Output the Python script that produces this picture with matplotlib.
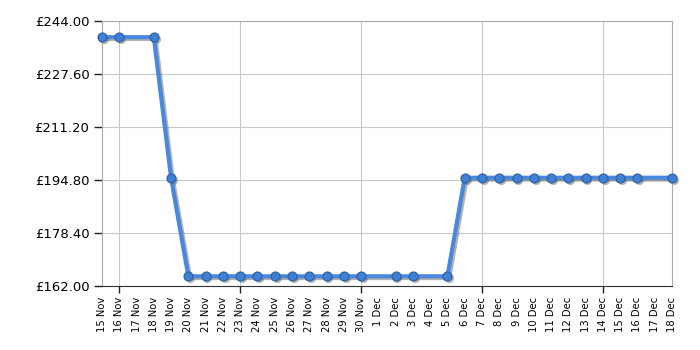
import matplotlib
matplotlib.use("Agg")
import matplotlib.pyplot as plt
import matplotlib.transforms as mtransforms

# day labels from 15 Nov to 18 Dec
day_labels = ([f"{d} Nov" for d in range(15, 31)] +
              [f"{d} Dec" for d in range(1, 19)])

# days that have a price (index into day_labels)
price_days = [0, 1, 3, 4, 5, 6, 7, 8, 9, 10, 11, 12, 13, 14, 15,
              17, 18, 20, 21, 22, 23, 24, 25, 26, 27, 28, 29, 30, 31, 33]
prices = [238.99, 238.99, 238.99, 195.49,
          164.99, 164.99, 164.99, 164.99, 164.99, 164.99,
          164.99, 164.99, 164.99, 164.99, 164.99,
          164.99, 164.99, 164.99,
          195.49, 195.49, 195.49, 195.49, 195.49, 195.49,
          195.49, 195.49, 195.49, 195.49, 195.49, 195.49]

y_ticks = [162.0, 178.4, 194.8, 211.2, 227.6, 244.0]
week_ticks = [1, 8, 15, 22, 29]

fig = plt.figure(figsize=(7, 3.5), dpi=100)
ax = fig.add_axes([0.1457, 0.183, 0.8143, 0.757])

# drop shadow: same line shifted a little right and down
shadow_tr = ax.transData + mtransforms.ScaledTranslation(1.8 / 100, -1.8 / 100, fig.dpi_scale_trans)
ax.plot(price_days, prices, color="#555555", alpha=0.45, lw=3,
        marker="o", ms=6.5, mfc="#555555", mec="#555555", mew=0,
        transform=shadow_tr, zorder=2, clip_on=False)

ax.plot(price_days, prices, color="#4a88dc", lw=3,
        marker="o", ms=6.5, mfc="#3f7fd4", mec="#2c5f9e", mew=0.8,
        zorder=3, clip_on=False)

ax.set_xlim(0, 33)
ax.set_ylim(162, 244)

ax.set_yticks(y_ticks)
ax.set_yticklabels([f"£{v:.2f}" for v in y_ticks], fontsize=9.5)
ax.tick_params(axis="y", length=6, width=1, color="#222222", pad=3)

ax.xaxis.remove_overlapping_locs = False
ax.set_xticks(range(len(day_labels)))
ax.set_xticklabels(day_labels, rotation=90, fontsize=7.2)
ax.tick_params(axis="x", which="major", length=0, pad=8)
ax.set_xticks(week_ticks, minor=True)
ax.tick_params(axis="x", which="minor", length=5, width=1, color="#222222")

ax.grid(False)
ax.yaxis.grid(True, color="#c8c8c8", lw=0.8)
ax.xaxis.grid(True, which="minor", color="#c8c8c8", lw=0.8)
ax.set_axisbelow(True)

for side in ["top", "right", "left"]:
    ax.spines[side].set_color("#aaaaaa")
ax.spines["bottom"].set_color("#333333")

fig.savefig("out.png", dpi=100)
